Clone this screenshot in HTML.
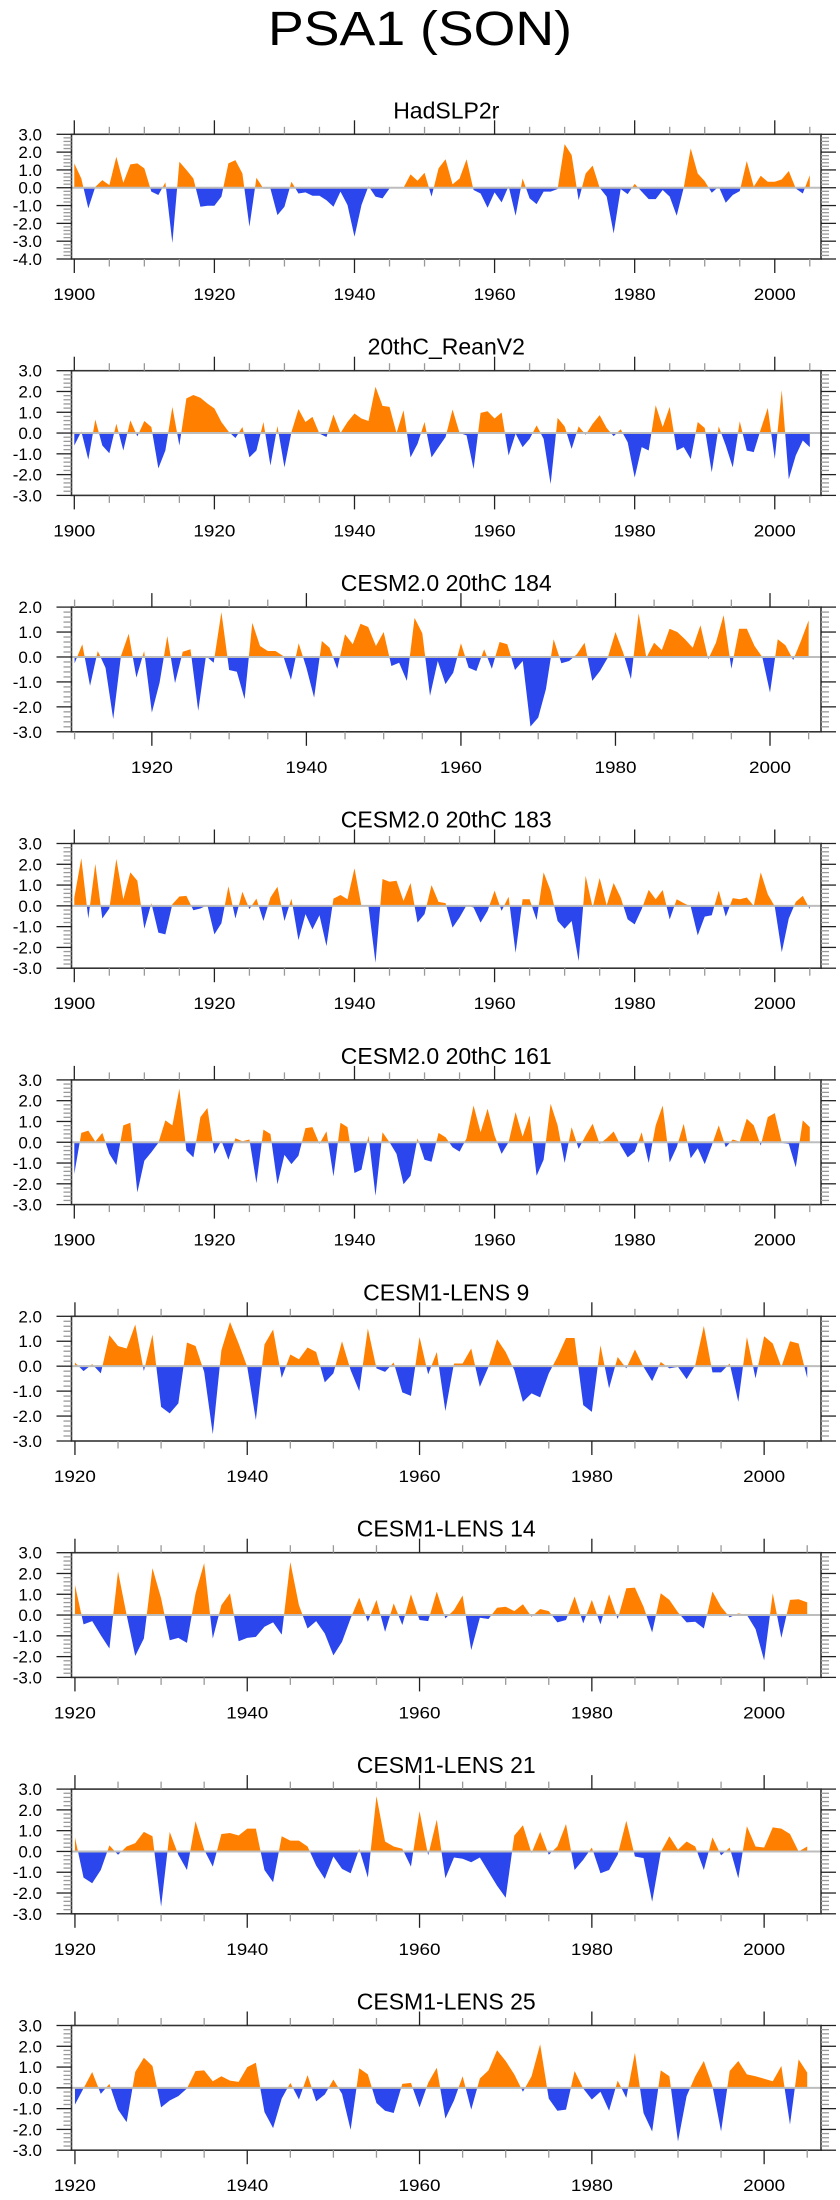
<!DOCTYPE html>
<html>
<head>
<meta charset="utf-8">
<style>
  html,body{margin:0;padding:0;background:#fff;}
  svg{display:block;}
  text{font-family:"Liberation Sans",Arial,sans-serif;fill:#000;}
</style>
</head>
<body>
<svg id="chart" width="840" height="2200" viewBox="0 0 840 2200" xmlns="http://www.w3.org/2000/svg">
  <rect x="0" y="0" width="840" height="2200" fill="#fff"/>
  <text x="420" y="45" text-anchor="middle" font-size="48" textLength="304" lengthAdjust="spacingAndGlyphs">PSA1 (SON)</text>
</svg>
<script>
const panelNames = ["HadSLP2r","20thC_ReanV2","CESM2.0 20thC 184","CESM2.0 20thC 183","CESM2.0 20thC 161","CESM1-LENS 9","CESM1-LENS 14","CESM1-LENS 21","CESM1-LENS 25"];
const startYears = [1900,1900,1910,1900,1900,1920,1920,1920,1920];
const yMins = [-4,-3,-3,-3,-3,-3,-3,-3,-3];
const yMaxs = [3,3,2,3,3,2,3,3,3];

const hadslp2r = [1.37,0.52,-1.16,0.05,0.43,0.15,1.74,0.28,1.31,1.37,1.09,-0.22,-0.41,0.3,-3.1,1.46,1.0,0.52,-1.07,-1.01,-1.01,-0.5,1.37,1.55,0.8,-2.19,0.56,-0.05,-0.05,-1.54,-1.07,0.34,-0.32,-0.26,-0.45,-0.45,-0.7,-1.07,-0.22,-0.97,-2.75,-0.97,0.09,-0.5,-0.6,-0.04,0.0,0.0,0.75,0.39,0.84,-0.5,1.09,1.6,0.19,0.52,1.6,-0.13,-0.32,-1.12,-0.26,-0.82,0.09,-1.57,0.52,-0.6,-0.92,-0.22,-0.22,-0.07,2.45,1.84,-0.7,0.8,1.24,0.0,-0.5,-2.57,-0.07,-0.36,0.22,-0.22,-0.64,-0.64,-0.13,-0.5,-1.57,0.0,2.21,0.8,0.37,-0.28,0.06,-0.84,-0.41,-0.19,1.5,0.06,0.67,0.34,0.34,0.47,0.94,-0.04,-0.32,0.71];
const reanV2 = [-0.6,0.08,-1.28,0.65,-0.6,-0.97,0.45,-0.84,0.61,-0.16,0.58,0.29,-1.7,-0.84,1.26,-0.6,1.67,1.83,1.7,1.42,1.18,0.53,0.08,-0.24,0.29,-1.17,-0.84,0.53,-1.57,0.34,-1.65,0.05,1.15,0.53,0.78,-0.03,-0.19,0.89,0.0,0.53,0.94,0.7,0.58,2.23,1.31,1.26,0.0,1.1,-1.17,-0.52,0.53,-1.17,-0.68,-0.19,1.13,0.0,-0.11,-1.73,0.97,1.05,0.7,0.99,-1.08,-0.03,-0.68,-0.28,0.37,-0.28,-2.46,0.73,0.32,-0.76,0.32,-0.08,0.45,0.86,0.24,-0.15,0.18,-0.44,-2.14,-0.68,-0.84,1.34,0.29,1.26,-0.84,-0.68,-1.25,0.53,0.24,-1.89,0.32,-0.6,-1.65,0.57,-0.84,-0.92,0.18,1.21,-1.25,2.07,-2.22,-1.08,-0.36,-0.68];
const cesm2_184 = [-0.25,0.51,-1.16,0.24,-0.43,-2.49,0.04,0.93,-0.83,0.24,-2.23,-1.03,0.84,-1.05,0.21,0.31,-2.16,0.04,-0.23,1.8,-0.52,-0.59,-1.69,1.37,0.44,0.24,0.24,0.04,-0.92,0.55,-0.43,-1.63,0.64,0.37,-0.47,0.91,0.51,1.33,1.2,0.44,1.0,-0.36,-0.23,-0.96,1.57,0.95,-1.56,-0.16,-1.09,-0.63,0.55,-0.43,-0.56,0.31,-0.47,0.6,0.51,-0.52,-0.16,-2.79,-2.43,-1.29,0.71,-0.25,-0.16,0.11,0.57,-0.96,-0.56,-0.03,1.0,0.17,-0.89,1.75,-0.03,0.57,0.28,1.13,1.0,0.71,0.37,1.27,-0.09,0.57,1.68,-0.47,1.13,1.13,0.44,0.0,-1.43,0.71,0.47,-0.12,0.64,1.47];
const cesm2_183 = [0.4,2.29,-0.61,2.02,-0.61,-0.13,2.26,0.32,1.61,1.21,-1.1,0.13,-1.29,-1.37,0.08,0.45,0.48,-0.21,-0.13,0.03,-1.37,-0.84,0.94,-0.61,0.68,-0.16,0.35,-0.73,0.4,0.92,-0.73,0.35,-1.65,-0.4,-1.13,-0.45,-1.94,0.35,0.52,0.32,1.81,-0.03,-0.03,-2.74,1.29,1.16,1.21,0.24,1.1,-0.81,-0.4,1.0,0.19,0.13,-1.05,-0.56,0.03,-0.08,-0.81,-0.24,0.73,-0.24,0.44,-2.26,0.32,0.32,-0.68,1.61,0.73,-0.73,-1.1,-0.73,-2.66,1.45,-0.08,1.34,0.03,1.1,0.4,-0.65,-0.89,-0.16,0.77,0.32,0.76,-0.65,0.32,0.13,-0.03,-1.42,-0.52,-0.45,0.73,-0.52,0.37,0.32,0.4,0.0,1.61,0.56,-0.03,-2.23,-0.61,0.19,0.48,-0.16];
const cesm2_161 = [-1.53,0.45,0.56,0.03,0.45,-0.56,-1.1,0.81,0.94,-2.42,-0.89,-0.48,-0.03,1.05,0.81,2.58,-0.4,-0.73,1.21,1.65,-0.56,0.08,-0.84,0.19,0.05,0.13,-1.97,0.61,0.4,-2.02,-0.61,-1.05,-0.65,0.68,0.73,-0.08,0.53,-1.65,0.94,0.73,-1.48,-1.32,0.32,-2.58,0.48,0.0,-0.56,-2.02,-1.61,0.19,-0.84,-0.94,0.45,0.24,-0.24,-0.45,0.19,1.77,0.48,1.61,0.32,-0.56,0.0,1.45,0.27,1.29,-1.61,-0.84,1.85,0.81,-1.0,0.73,-0.32,0.32,0.89,-0.08,0.19,0.52,-0.16,-0.73,-0.45,0.48,-1.0,0.81,1.77,-0.97,-0.24,0.89,-0.77,-0.29,-1.05,-0.16,0.81,-0.24,0.13,0.03,1.13,0.81,-0.16,1.21,1.4,-0.03,-0.08,-1.21,1.05,0.73];
const lens9 = [0.15,-0.2,0.08,-0.29,1.24,0.81,0.71,1.67,-0.2,1.27,-1.63,-1.89,-1.49,0.95,0.81,-0.23,-2.73,0.64,1.77,0.91,-0.03,-2.16,0.87,1.47,-0.47,0.47,0.28,0.75,0.57,-0.65,-0.29,1.0,-0.16,-1.0,1.51,-0.09,-0.23,0.15,-1.05,-1.19,1.17,-0.33,0.57,-1.8,0.11,0.11,0.71,-0.83,-0.03,1.08,0.57,-0.16,-1.43,-1.09,-1.25,-0.29,0.37,1.13,1.13,-1.56,-1.83,0.84,-0.89,0.37,-0.09,0.67,-0.03,-0.6,0.17,-0.09,-0.03,-0.52,0.04,1.61,-0.25,-0.25,0.11,-1.43,1.17,-0.49,1.2,0.91,-0.03,1.0,0.91,-0.47];
const lens14 = [1.45,-0.45,-0.29,-0.97,-1.61,2.1,0.0,-1.97,-1.13,2.26,0.81,-1.21,-1.1,-1.34,1.05,2.5,-1.13,0.48,1.05,-1.26,-1.1,-1.05,-0.56,-0.35,-0.94,2.55,0.48,-0.65,-0.29,-0.89,-1.94,-1.29,-0.16,0.84,-0.32,0.73,-0.81,0.56,-0.48,1.0,-0.24,-0.29,1.13,-0.16,0.24,0.94,-1.69,-0.13,-0.19,0.35,0.4,0.19,0.52,-0.08,0.29,0.19,-0.35,-0.24,0.89,-0.4,0.73,-0.45,1.0,-0.19,1.29,1.32,0.4,-0.84,1.05,0.73,0.13,-0.35,-0.32,-0.65,1.13,0.4,-0.11,0.08,0.0,-0.68,-2.18,1.05,-1.1,0.73,0.76,0.61];
const lens21 = [0.68,-1.26,-1.53,-0.89,0.29,-0.16,0.24,0.4,0.94,0.73,-2.66,0.94,-0.16,-0.89,1.45,0.08,-0.73,0.84,0.89,0.77,1.1,1.1,-0.89,-1.48,0.73,0.52,0.52,0.24,-0.68,-1.32,-0.24,-0.84,-1.05,0.13,-1.26,2.66,0.48,0.24,0.13,-0.73,1.94,-0.19,1.53,-1.29,-0.29,-0.35,-0.52,-0.29,-0.97,-1.65,-2.23,0.77,1.26,-0.08,0.94,-0.16,0.24,1.32,-0.89,-0.4,0.19,-1.05,-0.89,-0.16,1.48,-0.24,-0.32,-2.42,-0.03,0.73,0.08,0.48,0.24,-0.89,0.68,-0.19,0.19,-1.29,1.21,0.24,0.19,1.16,1.1,0.84,0.0,0.24];
const lens25 = [-0.81,-0.02,0.76,-0.29,0.19,-1.05,-1.65,0.77,1.45,1.05,-0.94,-0.61,-0.4,-0.03,0.81,0.84,0.32,0.56,0.35,0.29,1.0,1.21,-1.16,-1.94,-0.52,0.24,-0.56,0.61,-0.65,-0.32,0.4,-0.29,-2.02,0.94,0.65,-0.73,-1.1,-1.21,0.19,0.24,-0.94,0.24,0.97,-1.48,-0.61,0.56,-1.05,0.45,0.84,1.81,1.29,0.65,-0.19,0.56,2.1,-0.52,-1.1,-1.05,0.81,-0.03,-0.56,-0.19,-1.1,0.35,-0.48,1.69,-1.21,-2.1,0.84,0.56,-2.58,-0.4,0.56,1.29,0.08,-2.1,0.81,1.29,0.65,0.56,0.44,0.32,1.05,-1.77,1.37,0.73];

const seriesList = [hadslp2r, reanV2, cesm2_184, cesm2_183, cesm2_161, lens9, lens14, lens21, lens25];

const NS = "http://www.w3.org/2000/svg";
const svg = document.getElementById("chart");
const frameLeft = 71.5, frameRight = 821, frameH = 124.7, firstTop = 134.3, panelStep = 236.4;
const xEnd = 2006.6;

function mk(tag, attrs, parent) {
  const e = document.createElementNS(NS, tag);
  for (const k in attrs) e.setAttribute(k, attrs[k]);
  (parent || svg).appendChild(e);
  return e;
}

seriesList.forEach(function (vals, i) {
  const start = startYears[i], ymin = yMins[i], ymax = yMaxs[i];
  const top = firstTop + i * panelStep, bottom = top + frameH;
  const x0 = start - 0.4;
  const xs = function (yr) { return frameLeft + (yr - x0) * (frameRight - frameLeft) / (xEnd - x0); };
  const ys = function (v) { return top + (ymax - v) * frameH / (ymax - ymin); };
  const zeroY = ys(0);

  const g = mk("g", {});
  
  

  const title = mk("text", { x: (frameLeft + frameRight) / 2, y: top - 16, "text-anchor": "middle", "font-size": 23 }, g);
  title.textContent = panelNames[i];
  
  

  // clip paths
  const defs = mk("defs", {}, g);
  const cpA = mk("clipPath", { id: "above" + i }, defs);
  mk("rect", { x: frameLeft, y: top, width: frameRight - frameLeft, height: zeroY - top }, cpA);
  const cpB = mk("clipPath", { id: "below" + i }, defs);
  mk("rect", { x: frameLeft, y: zeroY, width: frameRight - frameLeft, height: bottom - zeroY }, cpB);

  let pts = xs(start).toFixed(2) + "," + zeroY.toFixed(2);
  vals.forEach(function (v, k) {
    pts += " " + xs(start + k).toFixed(2) + "," + ys(v).toFixed(2);
  });
  pts += " " + xs(start + vals.length - 1).toFixed(2) + "," + zeroY.toFixed(2);

  const pos = mk("polygon", { points: pts, fill: "#ff8000", "clip-path": "url(#above" + i + ")" }, g);
  
  
  const neg = mk("polygon", { points: pts, fill: "#2a46ec", "clip-path": "url(#below" + i + ")" }, g);
  
  

  const zl = mk("line", { x1: frameLeft, x2: frameRight, y1: zeroY, y2: zeroY, stroke: "#bdbdbd", "stroke-width": 2 }, g);
  
  

  const fr = mk("rect", { x: frameLeft, y: top, width: frameRight - frameLeft, height: frameH, fill: "none", stroke: "#333", "stroke-width": 1.6 }, g);
  
  

  // y ticks
  for (let k = ymin * 5; k <= ymax * 5; k++) {
    const yy = ys(k / 5);
    const major = (k % 5 === 0);
    const len = major ? 15 : 8;
    const col = major ? "#222" : "#999";
    mk("line", { x1: frameLeft - len, x2: frameLeft, y1: yy, y2: yy, stroke: col, "stroke-width": 1.3 }, g);
    mk("line", { x1: frameRight, x2: frameRight + len, y1: yy, y2: yy, stroke: col, "stroke-width": 1.3 }, g);
    if (major) {
      const v = k / 5;
      const lab = mk("text", { x: 42, y: yy + 6, "text-anchor": "end", "font-size": 17 }, g);
      lab.textContent = v.toFixed(1);
      
      
    }
  }
  // x ticks
  for (let yr = start; yr <= 2005; yr += 5) {
    const xx = xs(yr);
    const major = (yr % 20 === 0);
    const len = major ? 14 : 7.5;
    const col = major ? "#222" : "#999";
    mk("line", { x1: xx, x2: xx, y1: top - len, y2: top, stroke: col, "stroke-width": 1.3 }, g);
    mk("line", { x1: xx, x2: xx, y1: bottom, y2: bottom + len, stroke: col, "stroke-width": 1.3 }, g);
    if (major) {
      const lab = mk("text", { x: xx, y: bottom + 41, "text-anchor": "middle", "font-size": 17, textLength: 42, lengthAdjust: "spacingAndGlyphs" }, g);
      lab.textContent = String(yr);
      
      
    }
  }
});
</script>
</body>
</html>
